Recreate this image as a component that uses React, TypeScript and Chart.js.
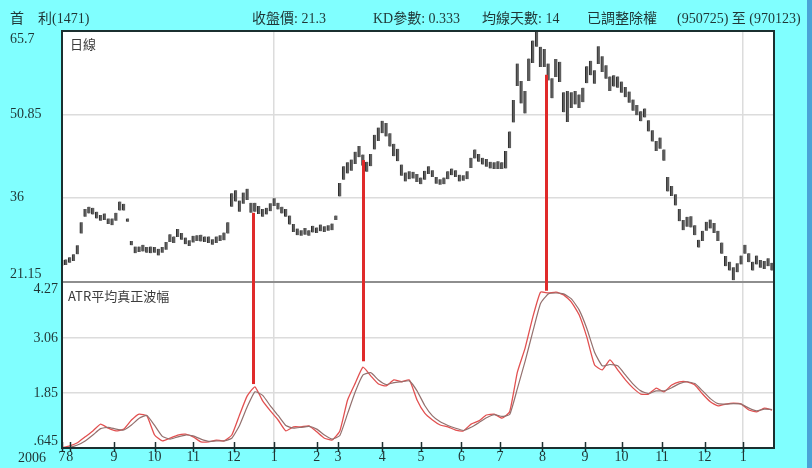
import React, { useEffect, useRef } from 'react';
import { Chart, registerables } from 'chart.js';

Chart.register(...registerables);

// ---- data ----
const headerTexts = ['首　利(1471)', '收盤價: 21.3', 'KD參數: 0.333', '均線天數: 14', '已調整除權', '(950725) 至 (970123)'];
const headerX = [10, 252, 373, 482, 587, 677];
const pricePanelTitle = '日線';
const atrPanelTitle = 'ATR平均真正波幅';
const yearLabel = '2006';

// trading-day index of each month start, and its label
const monthDays = [0, 4, 27, 48, 68, 89, 110, 132, 143, 166, 186, 207, 227, 249, 271, 290, 311, 333, 353];
const monthLabels = ['7', '8', '9', '10', '11', '12', '1', '2', '3', '4', '5', '6', '7', '8', '9', '10', '11', '12', '1'];
const totalDays = 369;

const priceTicks = [65.7, 50.85, 36, 21.15];
const atrTicks = [4.27, 3.06, 1.85, 0.645];

const PRICE_STEP = 2; // trading days between price samples
const ATR_STEP = 4; // trading days between ATR samples

const priceLow = [
  23.9, 24.0, 24.4, 24.7, 25.9, 29.6, 32.6, 33.2, 33.0, 32.3,
  31.9, 32.0, 31.3, 31.1, 31.9, 33.7, 33.7, 31.7, 27.5, 26.1,
  26.3, 26.4, 26.2, 26.1, 26.2, 25.7, 26.2, 26.7, 28.1, 27.9,
  29.0, 28.5, 27.7, 27.4, 28.0, 28.3, 28.2, 28.1, 27.9, 27.6,
  27.9, 28.3, 28.4, 29.6, 34.4, 35.3, 33.5, 34.9, 35.6, 33.3,
  33.5, 33.1, 32.6, 33.0, 33.6, 34.5, 33.9, 33.2, 32.6, 31.2,
  29.9, 29.3, 29.2, 29.4, 29.2, 29.8, 29.7, 30.0, 29.9, 30.1,
  30.2, 32.0, 36.2, 39.2, 40.3, 40.8, 42.0, 43.2, 41.7, 40.6,
  41.6, 44.6, 46.1, 47.5, 46.9, 45.1, 43.4, 42.5, 39.9, 38.9,
  39.3, 39.4, 38.8, 38.4, 39.2, 40.2, 39.7, 38.5, 38.3, 38.4,
  39.3, 40.0, 39.7, 38.9, 39.0, 39.3, 41.3, 43.0, 42.4, 41.9,
  41.5, 41.2, 41.1, 41.1, 41.1, 41.2, 44.8, 49.4, 55.9, 52.8,
  51.0, 56.8, 60.0, 62.9, 59.3, 59.3, 56.9, 53.7, 57.5, 56.6,
  51.2, 49.5, 52.0, 52.6, 52.0, 53.0, 56.4, 57.8, 56.3, 59.8,
  58.4, 57.2, 55.0, 55.8, 55.6, 54.7, 53.9, 52.9, 51.5, 50.7,
  49.6, 50.3, 47.8, 46.0, 44.3, 44.7, 42.6, 37.1, 36.3, 34.6,
  31.8, 30.2, 30.8, 30.7, 29.3, 27.1, 28.3, 30.1, 30.5, 29.7,
  28.3, 26.0, 23.8, 23.0, 21.3, 22.7, 24.1, 26.0, 24.5, 23.0,
  24.1, 23.5, 23.3, 23.8, 23.0,
];
const priceHigh = [
  24.9, 25.0, 25.4, 25.9, 27.5, 31.6, 34.0, 34.4, 34.2, 33.5,
  32.9, 33.2, 32.3, 32.3, 33.3, 35.3, 34.9, 32.3, 28.3, 27.3,
  27.3, 27.6, 27.2, 27.3, 27.2, 26.9, 27.2, 28.1, 29.5, 29.1,
  30.4, 29.7, 28.9, 28.4, 29.2, 29.3, 29.4, 29.1, 29.1, 28.6,
  29.1, 29.3, 29.8, 31.6, 36.8, 37.3, 35.5, 36.9, 37.6, 35.1,
  35.1, 34.5, 34.0, 34.2, 35.0, 35.9, 35.1, 34.4, 34.0, 32.8,
  31.3, 30.5, 30.2, 30.6, 30.2, 31.0, 30.7, 31.2, 30.9, 31.1,
  31.4, 32.8, 38.6, 41.6, 42.3, 42.8, 44.2, 45.2, 43.7, 42.4,
  43.8, 47.2, 48.5, 49.7, 49.3, 47.5, 45.6, 44.7, 41.9, 40.5,
  40.7, 40.6, 40.2, 39.6, 40.8, 41.6, 40.9, 39.7, 39.3, 39.6,
  40.7, 41.2, 40.9, 40.1, 40.0, 40.7, 43.1, 44.6, 43.8, 43.1,
  42.9, 42.4, 42.3, 42.5, 42.3, 44.3, 47.8, 53.4, 59.9, 56.8,
  55.0, 60.8, 64.0, 65.7, 62.9, 62.5, 59.9, 57.3, 60.7, 60.2,
  54.8, 55.0, 54.8, 55.0, 54.4, 55.6, 59.4, 60.4, 58.7, 63.0,
  61.2, 59.6, 57.6, 57.8, 57.6, 56.7, 55.7, 54.9, 53.5, 52.5,
  51.4, 51.9, 49.8, 48.0, 46.1, 46.7, 44.6, 39.7, 38.1, 36.6,
  34.0, 32.0, 32.6, 32.7, 31.1, 28.5, 30.1, 31.7, 32.1, 31.5,
  30.1, 28.0, 25.6, 24.6, 23.6, 24.3, 25.7, 27.6, 26.1, 24.6,
  25.7, 24.9, 24.7, 25.2, 24.4,
];

const atrValues = [
  0.65, 0.69, 0.76, 0.89, 1.02, 1.17, 1.08, 1.02, 1.06, 1.26,
  1.39, 1.35, 0.93, 0.80, 0.86, 0.93, 0.95, 0.89, 0.78, 0.78,
  0.82, 0.80, 0.93, 1.37, 1.79, 1.99, 1.68, 1.46, 1.26, 1.02,
  1.11, 1.11, 1.13, 1.00, 0.86, 0.82, 1.02, 1.70, 2.07, 2.42,
  2.23, 2.05, 2.01, 2.14, 2.10, 2.14, 1.70, 1.41, 1.26, 1.15,
  1.11, 1.04, 1.02, 1.17, 1.24, 1.37, 1.39, 1.30, 1.44, 2.31,
  2.84, 3.52, 4.07, 4.05, 4.07, 4.01, 3.85, 3.57, 3.08, 2.47,
  2.36, 2.58, 2.36, 2.14, 1.96, 1.83, 1.83, 1.96, 1.88, 2.03,
  2.10, 2.10, 2.03, 1.83, 1.66, 1.57, 1.61, 1.63, 1.61, 1.48,
  1.44, 1.52, 1.48,
];
const atrAverage = [
  0.65, 0.66, 0.71, 0.80, 0.93, 1.07, 1.10, 1.06, 1.04, 1.15,
  1.30, 1.36, 1.14, 0.90, 0.84, 0.89, 0.93, 0.91, 0.84, 0.79,
  0.80, 0.80, 0.86, 1.14, 1.55, 1.88, 1.80, 1.57, 1.36, 1.14,
  1.08, 1.10, 1.12, 1.06, 0.93, 0.84, 0.92, 1.40, 1.88, 2.25,
  2.30, 2.14, 2.04, 2.08, 2.10, 2.12, 1.90, 1.58, 1.35, 1.22,
  1.14, 1.08, 1.03, 1.10, 1.20, 1.31, 1.38, 1.34, 1.38, 1.95,
  2.55, 3.20, 3.82, 4.03, 4.05, 4.03, 3.92, 3.68, 3.27, 2.75,
  2.45, 2.48, 2.45, 2.25, 2.05, 1.90, 1.84, 1.90, 1.90, 1.97,
  2.06, 2.10, 2.06, 1.90, 1.73, 1.62, 1.61, 1.62, 1.61, 1.52,
  1.46, 1.50, 1.49,
];

// red markers joining a price bar to the ATR peak
const markerDays = [99, 156, 251];
const markerPrice = [33.3, 42.7, 57.9];
const markerAtr = [2.05, 2.55, 4.1];

// ---- panel geometry (price panel 250px over ATR panel 165px, 2px gap) ----
const PRICE_PANEL = 250;
const GAP = 2;
const ATR_PANEL = 165;
const FULL = PRICE_PANEL + GAP + ATR_PANEL;
const priceMin = priceTicks[0] - (priceTicks[0] - priceTicks[3]) * (FULL / PRICE_PANEL);
const atrMax = atrTicks[3] + (atrTicks[0] - atrTicks[3]) * (FULL / ATR_PANEL);

const TEXT = '#1f3535';
const NUM_FONT = '"Liberation Serif", "Times New Roman", serif';
const CJK_FONT = '"Liberation Serif", "Noto Sans CJK TC", sans-serif';

const decorPlugin = {
  id: 'decor',
  beforeDraw(chart: any) {
    const { ctx, chartArea } = chart;
    ctx.save();
    ctx.fillStyle = '#ffffff';
    ctx.fillRect(chartArea.left, chartArea.top, chartArea.right - chartArea.left, chartArea.bottom - chartArea.top);
    ctx.restore();
  },
  afterDatasetsDraw(chart: any) {
    const { ctx, chartArea, scales } = chart;
    const x = scales.x, yP = scales.yP, yA = scales.yA;
    ctx.save();
    // separator between panels
    const sepY = yP.getPixelForValue(priceTicks[priceTicks.length - 1]) + 1;
    ctx.strokeStyle = '#8e8e8e';
    ctx.lineWidth = 2;
    ctx.beginPath();
    ctx.moveTo(chartArea.left, sepY);
    ctx.lineTo(chartArea.right, sepY);
    ctx.stroke();
    // red markers
    ctx.strokeStyle = '#e02a2a';
    ctx.lineWidth = 3;
    markerDays.forEach((d, i) => {
      const px = Math.round(x.getPixelForValue(d)) + 0.5;
      ctx.beginPath();
      ctx.moveTo(px, yP.getPixelForValue(markerPrice[i]));
      ctx.lineTo(px, yA.getPixelForValue(markerAtr[i]));
      ctx.stroke();
    });
    // frame
    ctx.strokeStyle = '#1b3030';
    ctx.lineWidth = 2;
    ctx.strokeRect(chartArea.left, chartArea.top, chartArea.right - chartArea.left, chartArea.bottom - chartArea.top);
    // month tick marks
    ctx.lineWidth = 1.5;
    x.ticks.forEach((t: any) => {
      const px = Math.round(x.getPixelForValue(t.value)) + 0.5;
      ctx.beginPath();
      ctx.moveTo(px, chartArea.bottom - 6);
      ctx.lineTo(px, chartArea.bottom + 4);
      ctx.stroke();
    });
    // y labels
    ctx.fillStyle = TEXT;
    ctx.font = '14px ' + NUM_FONT;
    const base = (i: number, n: number) => (i === 0 ? 'top' : i === n - 1 ? 'bottom' : 'middle');
    ctx.textAlign = 'left';
    priceTicks.forEach((v, i) => {
      ctx.textBaseline = base(i, priceTicks.length);
      const py = yP.getPixelForValue(v) + (i === 0 ? 1 : 0);
      ctx.fillText(String(v), 10, py);
    });
    ctx.textAlign = 'right';
    atrTicks.forEach((v, i) => {
      ctx.textBaseline = base(i, atrTicks.length);
      const py = yA.getPixelForValue(v) + (i === 0 ? -1 : 0);
      ctx.fillText(String(v).replace(/^0\./, '.'), 58, py);
    });
    ctx.textAlign = 'left';
    ctx.textBaseline = 'middle';
    ctx.fillText(yearLabel, 18, chartArea.bottom + 10);
    ctx.restore();
  },
};

export default function App() {
  const canvasRef = useRef<HTMLCanvasElement | null>(null);

  useEffect(() => {
    if (!canvasRef.current) return;
    const chart = new Chart(canvasRef.current, {
      type: 'line',
      data: {
        datasets: [
          {
            type: 'bar',
            label: 'price',
            data: priceLow.map((lo, i) => ({ x: i * PRICE_STEP, y: [lo, priceHigh[i]] })) as any,
            xAxisID: 'x',
            yAxisID: 'yP',
            backgroundColor: '#5e5e5e',
            borderColor: '#2a2a2a',
            borderWidth: { left: 1, right: 0, top: 0, bottom: 0 },
            borderSkipped: false,
            barThickness: 3,
            grouped: false,
          } as any,
          {
            type: 'line',
            label: 'ATR MA',
            data: atrAverage.map((v, k) => ({ x: k * ATR_STEP, y: v })),
            xAxisID: 'x',
            yAxisID: 'yA',
            borderColor: '#93706e',
            borderWidth: 1.2,
            pointRadius: 0,
            tension: 0.15,
            fill: false,
          },
          {
            type: 'line',
            label: 'ATR',
            data: atrValues.map((v, k) => ({ x: k * ATR_STEP, y: v })),
            xAxisID: 'x',
            yAxisID: 'yA',
            borderColor: '#e25050',
            borderWidth: 1.3,
            pointRadius: 0,
            tension: 0.15,
            fill: false,
          },
        ],
      },
      options: {
        animation: false,
        responsive: false,
        events: [],
        layout: { padding: { left: 10, right: 38, top: 31, bottom: 0 } },
        plugins: { legend: { display: false }, tooltip: { enabled: false } },
        scales: {
          x: {
            type: 'linear',
            min: 0,
            max: totalDays,
            offset: false,
            afterBuildTicks: (s: any) => {
              s.ticks = monthDays.map((v) => ({ value: v }));
            },
            afterFit: (s: any) => {
              s.height = 20;
            },
            grid: {
              offset: false,
              drawTicks: false,
              lineWidth: 1.5,
              color: (c: any) => (monthLabels[c.index] === '1' ? '#dcdcdc' : 'rgba(0,0,0,0)'),
            },
            border: { display: false },
            ticks: {
              autoSkip: false,
              maxRotation: 0,
              padding: 1,
              color: TEXT,
              font: { family: NUM_FONT, size: 14 },
              callback: (_v: any, i: number) => monthLabels[i],
            },
          },
          yP: {
            type: 'linear',
            position: 'left',
            min: priceMin,
            max: priceTicks[0],
            beginAtZero: false,
            afterBuildTicks: (s: any) => {
              s.ticks = priceTicks.map((v) => ({ value: v }));
            },
            afterFit: (s: any) => {
              s.width = 52;
            },
            grid: {
              drawTicks: false,
              lineWidth: 1.5,
              color: (c: any) => (c.index > 0 && c.index < priceTicks.length - 1 ? '#dcdcdc' : 'rgba(0,0,0,0)'),
            },
            border: { display: false },
            ticks: { display: false },
          },
          yA: {
            type: 'linear',
            position: 'right',
            min: atrTicks[3],
            max: atrMax,
            beginAtZero: false,
            afterBuildTicks: (s: any) => {
              s.ticks = atrTicks.map((v) => ({ value: v }));
            },
            afterFit: (s: any) => {
              s.width = 0;
            },
            grid: {
              drawTicks: false,
              lineWidth: 1.5,
              color: (c: any) => (c.index > 0 && c.index < atrTicks.length - 1 ? '#dcdcdc' : 'rgba(0,0,0,0)'),
            },
            border: { display: false },
            ticks: { display: false },
          },
        },
      } as any,
      plugins: [decorPlugin],
    });
    return () => chart.destroy();
  }, []);

  const textStyle: React.CSSProperties = {
    position: 'absolute',
    fontFamily: CJK_FONT,
    fontSize: 14,
    lineHeight: '18px',
    color: TEXT,
    whiteSpace: 'pre',
  };

  return (
    <div style={{ position: 'relative', width: 812, height: 468, background: '#80ffff', overflow: 'hidden' }}>
      <style>{'body{margin:0}'}</style>
      <canvas ref={canvasRef} width={812} height={468} style={{ position: 'absolute', left: 0, top: 0 }} />
      {headerTexts.map((t, i) => (
        <div key={i} style={{ ...textStyle, left: headerX[i], top: 10 }}>{t}</div>
      ))}
      <div style={{ ...textStyle, left: 70, top: 35, color: '#3c3c3c', fontFamily: '"Noto Sans CJK TC", sans-serif', fontSize: 13 }}>{pricePanelTitle}</div>
      <div style={{ ...textStyle, left: 68, top: 287, color: '#3c3c3c', fontFamily: '"Noto Sans CJK TC", sans-serif', fontSize: 13 }}>{atrPanelTitle}</div>
      <div style={{ position: 'absolute', left: 807, top: 0, width: 5, height: 468, background: '#4aa3d6' }} />
    </div>
  );
}
